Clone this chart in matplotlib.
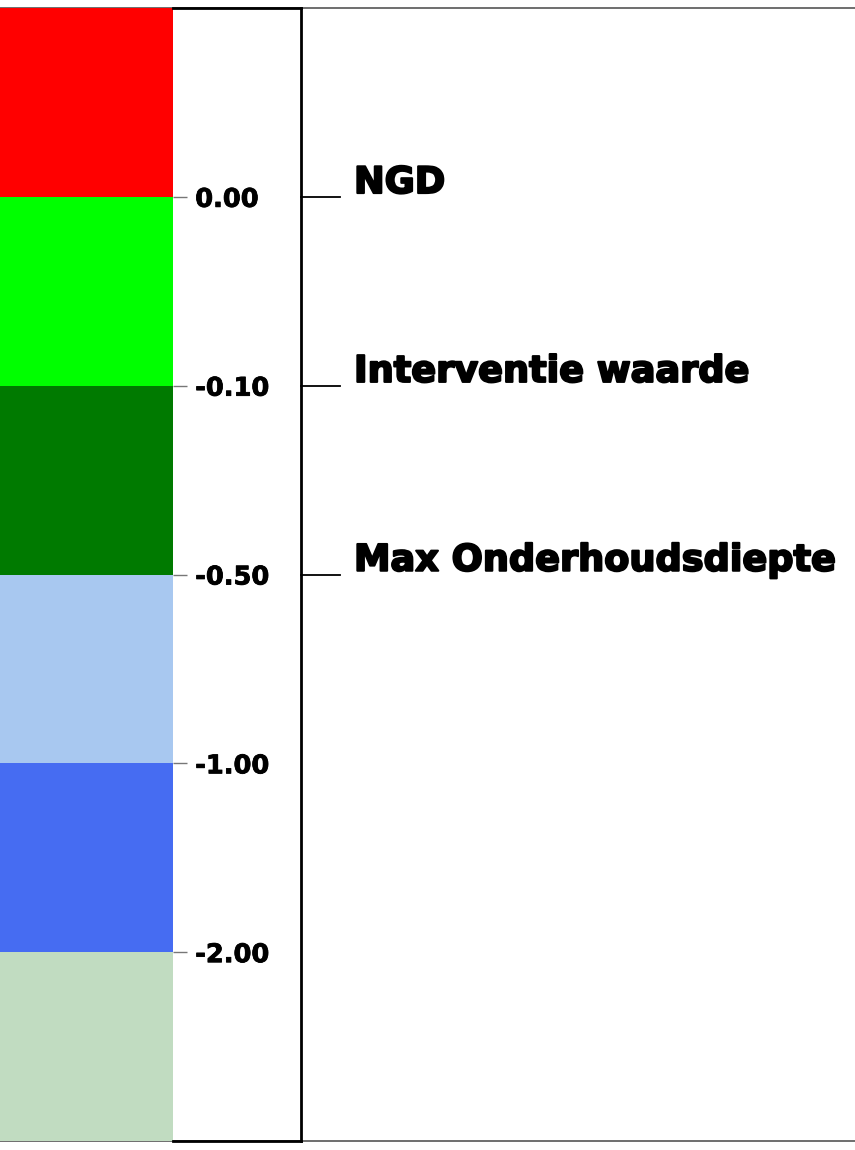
import matplotlib.pyplot as plt
import matplotlib.patheffects as pe

# bands from top to bottom
band_colors = ['#ff0000', '#00ff00', '#007a00', '#a8c8f0', '#466cf2', '#c1dcc1']
# boundaries between the bands, from top to bottom
level_labels = ['0.00', '-0.10', '-0.50', '-1.00', '-2.00']
# names for the first boundaries
level_names = ['NGD', 'Interventie waarde', 'Max Onderhoudsdiepte']

W, H = 855, 1150
fig = plt.figure(figsize=(W / 100, H / 100), dpi=100)
b = 9 / H
h = 1133 / H
n = len(band_colors)
edge_y = [n - 1 - j for j in range(len(level_labels))]

# frame with grey lines across the full width
frame = fig.add_axes([0, b, 1, h])
frame.set_xlim(0, W)
frame.set_ylim(0, n)
for s in ['left', 'right']:
    frame.spines[s].set_visible(False)
for s in ['top', 'bottom']:
    frame.spines[s].set_color('#555555')
    frame.spines[s].set_linewidth(1.2)
frame.set_xticks([])
frame.set_yticks([])

for y, name in zip(edge_y, level_names):
    frame.plot([301, 340], [y, y], color='black', lw=1.3, clip_on=False)
    frame.text(354, y + 0.02, name, fontsize=26.4, fontweight='bold', family='DejaVu Sans',
               va='baseline', ha='left',
               path_effects=[pe.withStroke(linewidth=1.5, foreground='black')])

# colour bar
cax = fig.add_axes([0, b, 173 / W, h])
for i, c in enumerate(band_colors):
    cax.bar(0.5, 1, width=1, bottom=n - 1 - i, color=c, linewidth=0)
cax.set_xlim(0, 1)
cax.set_ylim(0, n)
for s in cax.spines.values():
    s.set_visible(False)
cax.set_xticks([])
cax.yaxis.tick_right()
cax.set_yticks(edge_y)
cax.set_yticklabels(level_labels, fontsize=18.5, fontweight='bold')
for t in cax.get_yticklabels():
    t.set_path_effects([pe.withStroke(linewidth=0.6, foreground='black')])
cax.tick_params(axis='y', length=10, width=1, color='#777777', pad=6)

# black box right of the bar
box = fig.add_axes([173 / W, b, 128 / W, h])
box.set_facecolor('none')
box.spines['left'].set_visible(False)
for s in ['top', 'right', 'bottom']:
    box.spines[s].set_color('black')
    box.spines[s].set_linewidth(2)
box.set_xticks([])
box.set_yticks([])

fig.savefig('out.png', dpi=100)
